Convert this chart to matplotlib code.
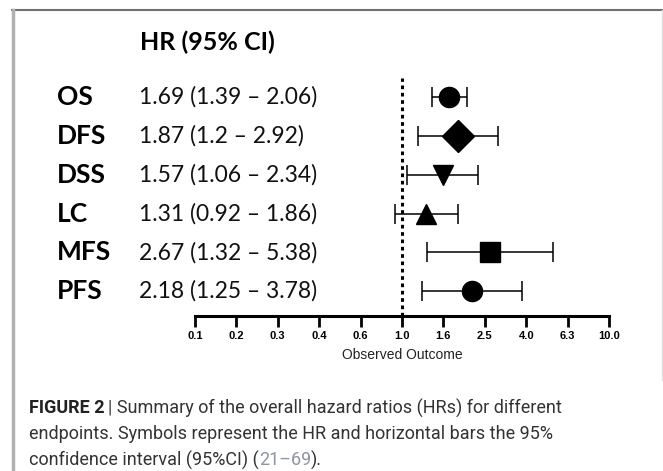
import matplotlib
matplotlib.use("Agg")
import matplotlib.pyplot as plt
import matplotlib.transforms as mtransforms
from matplotlib.lines import Line2D

# ---- data ----
endpoints = ["OS", "DFS", "DSS", "LC", "MFS", "PFS"]
hr = [1.69, 1.87, 1.57, 1.31, 2.67, 2.18]
ci_low = [1.39, 1.2, 1.06, 0.92, 1.32, 1.25]
ci_high = [2.06, 2.92, 2.34, 1.86, 5.38, 3.78]
hr_text = ["1.69 (1.39 \u2013 2.06)", "1.87 (1.2 \u2013 2.92)", "1.57 (1.06 \u2013 2.34)",
           "1.31 (0.92 \u2013 1.86)", "2.67 (1.32 \u2013 5.38)", "2.18 (1.25 \u2013 3.78)"]
markers = ["o", "D", "v", "^", "s", "o"]
tick_values = [0.1, 0.158, 0.251, 0.398, 0.631, 1.0, 1.585, 2.512, 3.981, 6.310, 10.0]
tick_labels = ["0.1", "0.2", "0.3", "0.4", "0.6", "1.0", "1.6", "2.5", "4.0", "6.3", "10.0"]
x_label = "Observed Outcome"
header = "HR (95% CI)"

W, H = 663, 471
fig = plt.figure(figsize=(W / 100, H / 100), dpi=100)
fig.patch.set_facecolor("white")

def fx(px):
    return px / W

def fy(py):
    return 1 - py / H

# axes spanning x 195..609 px, y 78..316 px
ax = fig.add_axes([fx(195), fy(316), fx(609) - fx(195), (316 - 78) / H])
ax.set_xscale("log")
ax.set_xlim(0.1, 10)
ax.set_ylim(5.64, -0.49)

for s in ["top", "right", "left"]:
    ax.spines[s].set_visible(False)
ax.spines["bottom"].set_linewidth(2.2)
ax.set_yticks([])
ax.xaxis.set_minor_locator(matplotlib.ticker.NullLocator())
ax.set_xticks(tick_values)
ax.set_xticklabels(tick_labels, fontfamily="Liberation Sans", fontweight="bold", fontsize=8)
ax.tick_params(axis="x", direction="out", length=8, width=2, pad=3)
ax.set_xlabel(x_label, fontfamily="Liberation Sans", fontsize=10, labelpad=5, color="#222222")
ax.patch.set_visible(False)

ax.axvline(1.0, color="black", linestyle=(0, (1.2, 1.2)), linewidth=2.2, zorder=1)

marker_sizes = {"o": 14.5, "D": 16, "v": 14.5, "^": 14.5, "s": 14}
for i in range(len(endpoints)):
    ax.errorbar(hr[i], i, xerr=[[hr[i] - ci_low[i]], [ci_high[i] - hr[i]]],
                fmt="none", ecolor="black", elinewidth=1.1, capsize=7.5, capthick=1.1, zorder=2)
    ax.plot(hr[i], i, marker=markers[i], color="black", markersize=marker_sizes[markers[i]],
            linestyle="none", zorder=3)

trans = mtransforms.blended_transform_factory(fig.transFigure, ax.transData)
for i in range(len(endpoints)):
    fig.text(fx(57), i, endpoints[i], transform=trans, fontfamily="Lato", fontweight="bold",
             fontsize=19, va="center", ha="left", color="black")
    fig.text(fx(139), i, hr_text[i], transform=trans, fontfamily="Lato",
             fontsize=16.5, va="center", ha="left", color="#111111")

fig.text(fx(140), fy(42), header, fontfamily="Lato", fontweight="bold", fontsize=18,
         va="center", ha="left", color="black")

# frame lines
fig.add_artist(Line2D([fx(12), fx(663)], [fy(10), fy(10)], color="#707070", linewidth=1.5))
fig.add_artist(Line2D([fx(13), fx(13)], [fy(10), fy(471)], color="#b0b0b0", linewidth=2.5))
fig.add_artist(Line2D([fx(661.5), fx(661.5)], [fy(10), fy(380)], color="#e0e0e0", linewidth=1))

# caption
cap_font = "Roboto"
cap_color = "#333333"
cap_size = 13
t1 = fig.text(fx(29), fy(408), "FIGURE 2", fontfamily=cap_font, fontweight="bold",
              fontsize=cap_size, color="#222222", va="center", ha="left")
fig.canvas.draw()
r = fig.canvas.get_renderer()
bb = t1.get_window_extent(r)
fig.text((bb.x1 + 3) / W, fy(408), "| Summary of the overall hazard ratios (HRs) for different",
         fontfamily=cap_font, fontsize=cap_size, color=cap_color, va="center", ha="left")
fig.text(fx(29), fy(434), "endpoints. Symbols represent the HR and horizontal bars the 95%",
         fontfamily=cap_font, fontsize=cap_size, color=cap_color, va="center", ha="left")
t3 = fig.text(fx(29), fy(460), "confidence interval (95%CI) (", fontfamily=cap_font,
              fontsize=cap_size, color=cap_color, va="center", ha="left")
fig.canvas.draw()
bb3 = t3.get_window_extent(r)
t4 = fig.text(bb3.x1 / W, fy(460), "21\u201369", fontfamily=cap_font,
              fontsize=cap_size, color="#8a96a3", va="center", ha="left")
fig.canvas.draw()
bb4 = t4.get_window_extent(r)
fig.text(bb4.x1 / W, fy(460), ").", fontfamily=cap_font,
         fontsize=cap_size, color=cap_color, va="center", ha="left")

fig.savefig("out.png", dpi=100)
